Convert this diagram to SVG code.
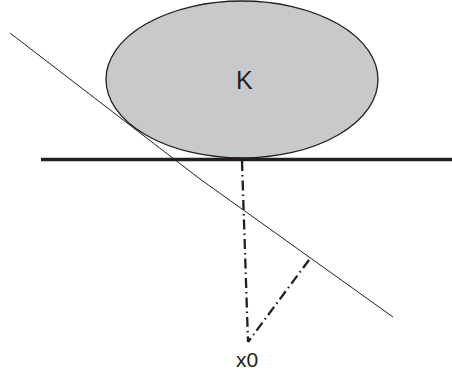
<svg xmlns="http://www.w3.org/2000/svg" width="452" height="376" viewBox="0 0 452 376">
<style>
.lbl{font-family:"Liberation Sans",Arial,sans-serif;fill:#231f20}
.dd{fill:none;stroke:#231f20;stroke-width:2.3;stroke-dasharray:10 4 1.5 4}
</style>
<rect width="452" height="376" fill="#fff"/>
<g id="K">
<ellipse cx="242" cy="79.5" rx="136" ry="78.5" fill="#c8c9cb" stroke="#231f20" stroke-width="1.3"/>
<text class="lbl" x="236" y="89" font-size="25">K</text>
</g>
<g id="connectors">
<line x1="41" y1="159.5" x2="452" y2="159.5" stroke="#231f20" stroke-width="3.5"/>
<polyline points="10,33 200,179 393,317" fill="none" stroke="#231f20" stroke-width="1"/>
<line class="dd" x1="242" y1="161" x2="248" y2="342"/>
<line class="dd" x1="309" y1="260" x2="248" y2="342"/>
</g>
<g id="x0">
<text class="lbl" x="236" y="367" font-size="21">x0</text>
</g>
</svg>
